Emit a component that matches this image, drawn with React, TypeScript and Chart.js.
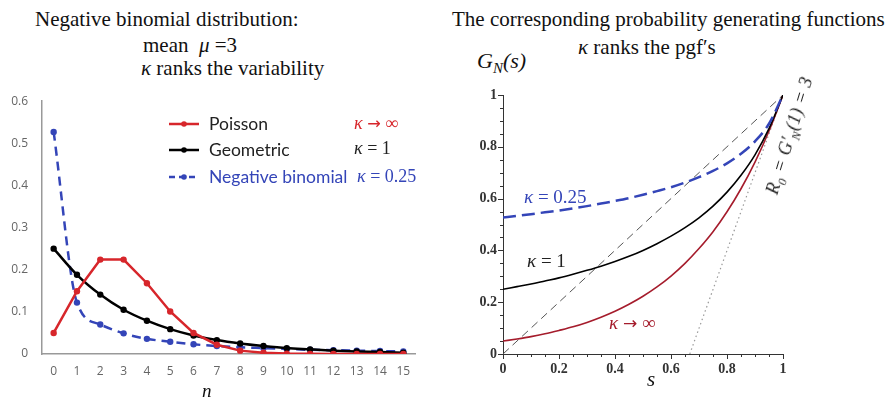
import React, { useEffect, useRef } from 'react';
import { Chart, registerables } from 'chart.js';

Chart.register(...registerables);

// ---------- Left panel data: probability mass functions (mean 3) ----------
const nCategories = ['0', '1', '2', '3', '4', '5', '6', '7', '8', '9', '10', '11', '12', '13', '14', '15'];
const poissonPmf = [0.050, 0.149, 0.224, 0.224, 0.168, 0.101, 0.050, 0.022, 0.008, 0.003, 0.001, 0.0003, 0.0001, 0.0, 0.0, 0.0];
const geometricPmf = [0.250, 0.188, 0.141, 0.105, 0.079, 0.059, 0.044, 0.033, 0.025, 0.019, 0.014, 0.011, 0.008, 0.006, 0.005, 0.003];
const negBinPmf = [0.527, 0.122, 0.070, 0.049, 0.036, 0.029, 0.023, 0.019, 0.016, 0.014, 0.012, 0.010, 0.009, 0.008, 0.007, 0.006];

// ---------- Right panel data: probability generating functions ----------
const sValues = [0, 0.05, 0.1, 0.15, 0.2, 0.25, 0.3, 0.35, 0.4, 0.45, 0.5, 0.55, 0.6, 0.65, 0.7, 0.75, 0.8, 0.85, 0.9, 0.95, 1];
const poissonPgf = [0.050, 0.058, 0.067, 0.078, 0.091, 0.105, 0.122, 0.142, 0.165, 0.192, 0.223, 0.259, 0.301, 0.350, 0.407, 0.472, 0.549, 0.638, 0.741, 0.861, 1.0];
const geometricPgf = [0.250, 0.260, 0.270, 0.282, 0.294, 0.308, 0.323, 0.339, 0.357, 0.377, 0.400, 0.426, 0.455, 0.488, 0.526, 0.571, 0.625, 0.690, 0.769, 0.870, 1.0];
const negBinPgf = [0.527, 0.533, 0.540, 0.547, 0.554, 0.562, 0.571, 0.581, 0.591, 0.602, 0.615, 0.629, 0.644, 0.662, 0.683, 0.707, 0.736, 0.773, 0.821, 0.889, 1.0];
const diagonalS = [0, 1];
const diagonalG = [0, 1];
const tangentS = [0.667, 1];
const tangentG = [0, 1];

const RED = '#d7262b';
const BLUE = '#3445b8';
const DARKRED = '#a51c2c';
const SERIF = '"Liberation Serif", "DejaVu Serif", serif';
const SANS = '"Open Sans", "Liberation Sans", sans-serif';
const LEGEND_FONT = 'Lato, "Open Sans", sans-serif';

const legendPlugin = {
  id: 'pmfLegend',
  afterDraw(chart: any) {
    const ctx = chart.ctx;
    const oy = 80; // canvas top offset on the page
    const items = [
      { y: 124, color: RED, dash: [] as number[], text: 'Poisson', textColor: '#222' },
      { y: 150, color: '#000', dash: [] as number[], text: 'Geometric', textColor: '#222' },
      { y: 177, color: BLUE, dash: [6, 4], text: 'Negative binomial', textColor: BLUE },
    ];
    ctx.save();
    for (const it of items) {
      const y = it.y - oy;
      ctx.beginPath();
      ctx.setLineDash(it.dash);
      ctx.strokeStyle = it.color;
      ctx.lineWidth = 2.5;
      ctx.moveTo(169, y);
      ctx.lineTo(199, y);
      ctx.stroke();
      ctx.setLineDash([]);
      ctx.beginPath();
      ctx.fillStyle = it.color;
      ctx.arc(184, y, 2.8, 0, Math.PI * 2);
      ctx.fill();
      ctx.font = `17.5px ${LEGEND_FONT}`;
      ctx.fillStyle = it.textColor;
      ctx.textBaseline = 'middle';
      ctx.textAlign = 'left';
      ctx.fillText(it.text, 209, y);
    }
    ctx.restore();
  },
};

const minorTickPlugin = {
  id: 'pgfTicks',
  afterDraw(chart: any) {
    const ctx = chart.ctx;
    const xs = chart.scales.x;
    const ys = chart.scales.y;
    const area = chart.chartArea;
    ctx.save();
    ctx.strokeStyle = '#333';
    ctx.lineWidth = 1;
    for (const t of xs.ticks) {
      const px = Math.round(xs.getPixelForValue(t.value)) + 0.5;
      const major = Math.round(t.value * 100) % 20 === 0;
      ctx.beginPath();
      ctx.moveTo(px, area.bottom);
      ctx.lineTo(px, area.bottom + (major ? 5 : 3));
      ctx.stroke();
    }
    for (const t of ys.ticks) {
      const py = Math.round(ys.getPixelForValue(t.value)) + 0.5;
      const major = Math.round(t.value * 100) % 20 === 0;
      ctx.beginPath();
      ctx.moveTo(area.left, py);
      ctx.lineTo(area.left - (major ? 5 : 3), py);
      ctx.stroke();
    }
    ctx.restore();
  },
};

function fmtPgfTick(v: number) {
  const r = Math.round(v * 100);
  if (r % 20 !== 0) return '';
  if (r === 0) return '0';
  if (r === 100) return '1';
  return (r / 100).toString();
}

function toXY(xs: number[], ys: number[]) {
  return xs.map((x, i) => ({ x, y: ys[i] }));
}

function LeftChart() {
  const ref = useRef<HTMLCanvasElement>(null);
  useEffect(() => {
    if (!ref.current) return;
    const chart = new Chart(ref.current, {
      type: 'line',
      data: {
        labels: nCategories,
        datasets: [
          {
            label: 'Poisson',
            data: poissonPmf,
            borderColor: RED,
            backgroundColor: RED,
            borderWidth: 2.5,
            pointRadius: 3.2,
            pointBorderWidth: 0,
            tension: 0,
          },
          {
            label: 'Geometric',
            data: geometricPmf,
            borderColor: '#000',
            backgroundColor: '#000',
            borderWidth: 2.5,
            pointRadius: 3.2,
            pointBorderWidth: 0,
            cubicInterpolationMode: 'monotone',
          },
          {
            label: 'Negative binomial',
            data: negBinPmf,
            borderColor: BLUE,
            backgroundColor: BLUE,
            borderWidth: 2.5,
            borderDash: [9, 6],
            pointRadius: 3.2,
            pointBorderWidth: 0,
            cubicInterpolationMode: 'monotone',
          },
        ],
      },
      options: {
        animation: false,
        responsive: false,
        layout: { padding: { top: 15, right: 25, left: 0, bottom: 0 } },
        plugins: { legend: { display: false }, tooltip: { enabled: false } },
        scales: {
          x: {
            type: 'category',
            offset: true,
            grid: { display: false, drawTicks: false },
            border: { display: true, color: '#999', width: 1.5 },
            ticks: { font: { family: SANS, size: 12 }, color: '#666', padding: 10, autoSkip: false, maxRotation: 0 },
            afterFit: (s: any) => { s.height = 45; },
          },
          y: {
            min: 0,
            max: 0.6,
            grid: { display: false, drawTicks: false },
            border: { display: true, color: '#999', width: 1.5 },
            ticks: { stepSize: 0.1, font: { family: SANS, size: 12 }, color: '#666', padding: 14 },
            afterFit: (s: any) => { s.width = 42; },
          },
        },
      } as any,
      plugins: [legendPlugin],
    });
    return () => chart.destroy();
  }, []);
  return <canvas ref={ref} width={440} height={319} style={{ position: 'absolute', left: 0, top: 80, width: 440, height: 319 }} />;
}

function RightChart() {
  const ref = useRef<HTMLCanvasElement>(null);
  useEffect(() => {
    if (!ref.current) return;
    const chart = new Chart(ref.current, {
      type: 'line',
      data: {
        datasets: [
          {
            label: 'kappa 0.25',
            data: toXY(sValues, negBinPgf),
            borderColor: BLUE,
            borderWidth: 2.5,
            borderDash: [13, 6],
            pointRadius: 0,
            cubicInterpolationMode: 'monotone',
          },
          {
            label: 'kappa 1',
            data: toXY(sValues, geometricPgf),
            borderColor: '#000',
            borderWidth: 1.6,
            pointRadius: 0,
            cubicInterpolationMode: 'monotone',
          },
          {
            label: 'kappa inf',
            data: toXY(sValues, poissonPgf),
            borderColor: DARKRED,
            borderWidth: 1.6,
            pointRadius: 0,
            cubicInterpolationMode: 'monotone',
          },
          {
            label: 'diagonal',
            data: toXY(diagonalS, diagonalG),
            borderColor: '#555',
            borderWidth: 1,
            borderDash: [8, 5],
            pointRadius: 0,
          },
          {
            label: 'tangent',
            data: toXY(tangentS, tangentG),
            borderColor: '#999',
            borderWidth: 1.2,
            borderDash: [1.5, 3],
            pointRadius: 0,
          },
        ],
      },
      options: {
        animation: false,
        responsive: false,
        layout: { padding: { top: 15, right: 112, left: 0, bottom: 0 } },
        plugins: { legend: { display: false }, tooltip: { enabled: false } },
        scales: {
          x: {
            type: 'linear',
            min: 0,
            max: 1,
            grid: { display: false, drawTicks: false },
            border: { display: true, color: '#333', width: 1 },
            ticks: { stepSize: 0.05, autoSkip: false, maxRotation: 0, callback: (v: any) => fmtPgfTick(Number(v)), font: { family: SERIF, size: 14, weight: 'bold' }, color: '#333', padding: 7 },
            afterFit: (s: any) => { s.height = 45; },
          },
          y: {
            min: 0,
            max: 1,
            grid: { display: false, drawTicks: false },
            border: { display: true, color: '#333', width: 1 },
            ticks: { stepSize: 0.05, autoSkip: false, callback: (v: any) => fmtPgfTick(Number(v)), font: { family: SERIF, size: 14, weight: 'bold' }, color: '#333', padding: 6 },
            afterFit: (s: any) => { s.width = 63; },
          },
        },
      } as any,
      plugins: [minorTickPlugin],
    });
    return () => chart.destroy();
  }, []);
  return <canvas ref={ref} width={455} height={319} style={{ position: 'absolute', left: 440, top: 80, width: 455, height: 319 }} />;
}

const txt = (left: number, top: number, size: number, extra: React.CSSProperties = {}): React.CSSProperties => ({
  position: 'absolute',
  left,
  top,
  fontSize: size,
  lineHeight: 1,
  fontFamily: SERIF,
  color: '#111',
  whiteSpace: 'pre',
  ...extra,
});

const Arrow = () => <span style={{ fontFamily: '"DejaVu Sans", sans-serif', fontStyle: 'normal', fontSize: '0.9em' }}>→</span>;

export default function App() {
  return (
    <div style={{ position: 'absolute', left: 0, top: 0, width: 895, height: 399, background: '#fff', overflow: 'hidden' }}>
      <LeftChart />
      <RightChart />
      <div style={txt(35, 9, 21)}>Negative binomial distribution:</div>
      <div style={txt(143, 35, 21)}>mean  <i>μ</i> =3</div>
      <div style={txt(141, 58, 21)}><i>κ</i> ranks the variability</div>
      <div style={txt(354, 114, 18, { color: RED })}><i>κ</i> <Arrow /> ∞</div>
      <div style={txt(354, 139, 18, { color: '#222' })}><i>κ</i> = 1</div>
      <div style={txt(357, 167, 18, { color: BLUE })}><i>κ</i> = 0.25</div>
      <div style={txt(202, 381, 19, { fontStyle: 'italic' })}>n</div>

      <div style={txt(452, 9, 21)}>The corresponding probability generating functions</div>
      <div style={txt(578, 37, 21)}><i>κ</i> ranks the pgf′s</div>
      <div style={txt(477, 50, 22, { fontStyle: 'italic' })}>G<sub style={{ fontSize: 15 }}>N</sub>(s)</div>
      <div style={txt(647, 369, 21, { fontStyle: 'italic' })}>s</div>
      <div style={txt(524, 187, 19, { color: BLUE })}><i>κ</i> = 0.25</div>
      <div style={txt(527, 251, 19, { color: '#222' })}><i>κ</i> = 1</div>
      <div style={txt(609, 313, 19, { color: DARKRED })}><i>κ</i> <Arrow /> ∞</div>
      <div
        style={txt(791, 136, 18, {
          fontStyle: 'italic',
          color: '#222',
          transform: 'translate(-50%, -50%) rotate(-73deg)',
          transformOrigin: 'center center',
          letterSpacing: 0.5,
        })}
      >
        R<sub style={{ fontSize: 12 }}>0</sub> = G′<sub style={{ fontSize: 12 }}>N</sub>(1) = 3
      </div>
    </div>
  );
}
